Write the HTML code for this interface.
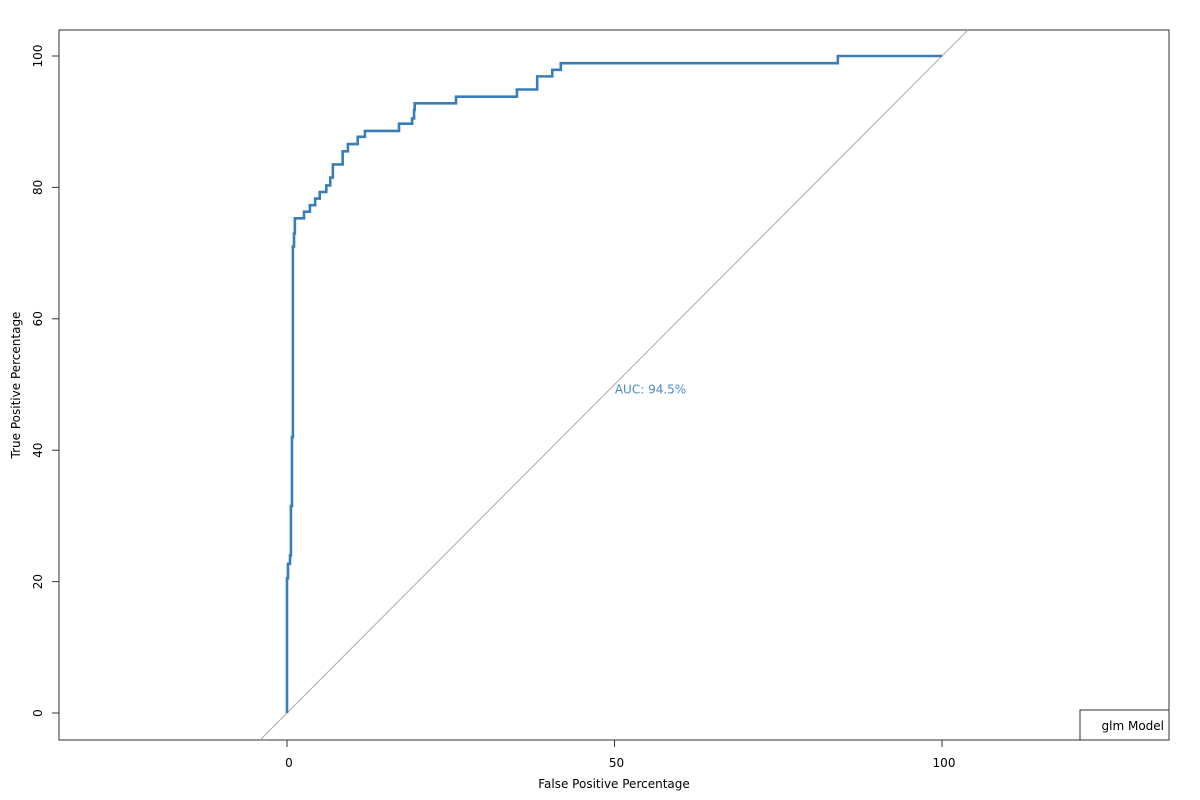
<!DOCTYPE html>
<html><head><meta charset="utf-8"><style>
html,body{margin:0;padding:0;background:#fff;}
svg{display:block;font-family:"DejaVu Sans","Liberation Sans",sans-serif;}
</style></head><body>
<svg id="chart" width="1200" height="800">
<rect x="59" y="30" width="1110" height="710" fill="none" stroke="#333" stroke-width="1"/>
<g id="xticks"></g>
<g id="yticks"></g>
<line id="diag" stroke="#aaa" stroke-width="1"/>
<path id="roc" fill="none" stroke="#377eb8" stroke-width="2.6"/>
<text id="auc" font-size="12" fill="#4a8bc4" text-anchor="middle">AUC: 94.5%</text>
<text x="614" y="788" font-size="12" text-anchor="middle">False Positive Percentage</text>
<text x="20" y="385" font-size="12" text-anchor="middle" transform="rotate(-90 20 385)">True Positive Percentage</text>
<rect x="1080" y="710" width="89" height="30" fill="#fff" stroke="#333" stroke-width="1"/>
<text x="1164" y="730" font-size="12" text-anchor="end">glm Model</text>
</svg>
<script>
const fpr = [0,0.15,0.46,0.6,0.76,0.9,1.07,1.2,2.6,3.5,4.3,5.0,6.0,6.6,7.0,8.5,9.3,10.8,11.9,17.1,19.1,19.4,19.5,25.8,35.1,38.2,40.5,41.8,84.1];
const tpr = [20.5,22.7,24,31.5,42,71,73,75.3,76.3,77.3,78.3,79.3,80.3,81.5,83.5,85.5,86.6,87.7,88.6,89.7,90.5,91.8,92.8,93.8,94.9,96.9,97.9,98.9,100];
const xTicks = [0,50,100];
const yTicks = [0,20,40,60,80,100];
const aucValue = 94.5;

const X = v => 287 + v*6.55;
const Y = v => 713 - v*6.57;
const NS = 'http://www.w3.org/2000/svg';

let d = 'M' + X(0) + ' ' + Y(0);
for (let i=0;i<fpr.length;i++){ d += ' H' + X(fpr[i]) + ' V' + Y(tpr[i]); }
d += ' H' + X(100);
document.getElementById('roc').setAttribute('d', d);

const dg = document.getElementById('diag');
const vlo = (740-713)/-6.57, vhi = (713-30)/6.57;
dg.setAttribute('x1', X(vlo)); dg.setAttribute('y1', Y(vlo));
dg.setAttribute('x2', X(vhi)); dg.setAttribute('y2', Y(vhi));

const auc = document.getElementById('auc');
auc.setAttribute('x', X(55.5)); auc.setAttribute('y', Y(48.6));
auc.textContent = 'AUC: ' + aucValue.toFixed(1) + '%';

const gx = document.getElementById('xticks');
xTicks.forEach(t=>{
  const l = document.createElementNS(NS,'line');
  
  
  l.setAttribute('x1',X(t)); l.setAttribute('x2',X(t)); l.setAttribute('y1',740); l.setAttribute('y2',747);
  l.setAttribute('stroke','#333'); gx.appendChild(l);
  const tx = document.createElementNS(NS,'text');
  
  
  tx.setAttribute('x',X(t)+2); tx.setAttribute('y',767); tx.setAttribute('font-size','12'); tx.setAttribute('text-anchor','middle');
  tx.textContent = t; gx.appendChild(tx);
});
const gy = document.getElementById('yticks');
yTicks.forEach(t=>{
  const l = document.createElementNS(NS,'line');
  
  
  l.setAttribute('x1',52); l.setAttribute('x2',59); l.setAttribute('y1',Y(t)); l.setAttribute('y2',Y(t));
  l.setAttribute('stroke','#333'); gy.appendChild(l);
  const tx = document.createElementNS(NS,'text');
  
  
  tx.setAttribute('x',42); tx.setAttribute('y',Y(t)); tx.setAttribute('font-size','12'); tx.setAttribute('text-anchor','middle');
  tx.setAttribute('transform','rotate(-90 42 '+Y(t)+')');
  tx.textContent = t; gy.appendChild(tx);
});
</script>
</body></html>
